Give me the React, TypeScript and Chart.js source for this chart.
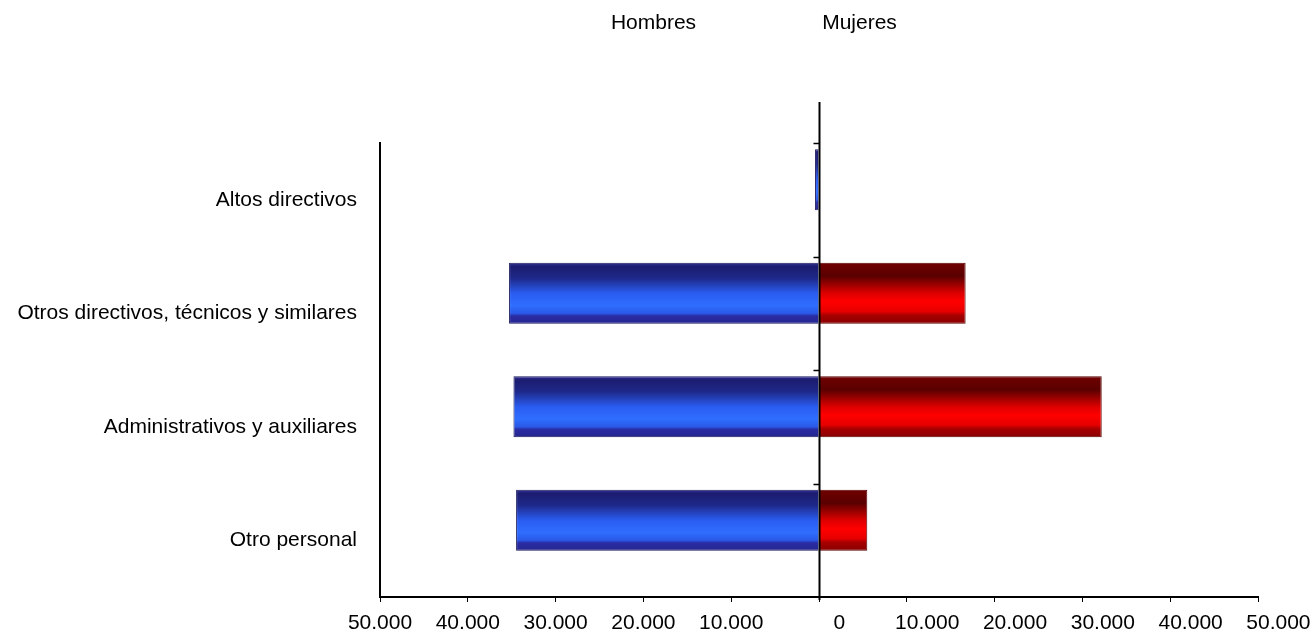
import { useEffect, useRef } from 'react';
import { Chart, registerables } from 'chart.js';

Chart.register(...registerables);

const categories = [
  'Altos directivos',
  'Otros directivos, técnicos y similares',
  'Administrativos y auxiliares',
  'Otro personal',
];
const hombres = [-450, -35300, -34800, -34500];
const mujeres = [100, 16700, 32200, 5500];
const spacer = [null, null, null, null];
const seriesNames = ['Hombres', 'Mujeres'];
const xMin = -50000;
const xMax = 50000;
const xStep = 10000;

const FONT = '"Liberation Sans", Arial, sans-serif';
const CAT_PCT = 0.705;
const BAR_PCT = 1.525;

const blueStops: [number, string][] = [
  [0, '#34349a'],
  [0.06, '#1c1c70'],
  [0.25, '#1e2888'],
  [0.5, '#2a5cf0'],
  [0.7, '#2f6eff'],
  [0.83, '#2a58e6'],
  [0.87, '#2a2ca4'],
  [1, '#26268e'],
];
const redStops: [number, string][] = [
  [0, '#700000'],
  [0.22, '#5a0000'],
  [0.5, '#dd0000'],
  [0.64, '#ff0000'],
  [0.8, '#e60000'],
  [0.86, '#a80000'],
  [1, '#880000'],
];

function fmt(v: number) {
  const n = Math.abs(v);
  const s = String(n).replace(/\B(?=(\d{3})+(?!\d))/g, '.');
  return v >= 0 ? '       ' + s : s;
}

function gradientFor(stops: [number, string][], fallback: string) {
  return (c: any) => {
    const chart = c.chart;
    const y = chart.scales && chart.scales.y;
    if (!y || c.type !== 'data') return fallback;
    const bandCenter = y.getPixelForValue(c.dataIndex);
    const band = y._length / categories.length;
    if (!isFinite(bandCenter) || !isFinite(band) || band <= 0) return fallback;
    const chunk = (band * CAT_PCT) / 2;
    const center = bandCenter - chunk / 2;
    const half = (chunk * BAR_PCT) / 2;
    const g = chart.ctx.createLinearGradient(0, center - half, 0, center + half);
    stops.forEach(([o, col]) => g.addColorStop(o, col));
    return g;
  };
}

const overlay = {
  id: 'overlay',
  afterDatasetsDraw(chart: any) {
    const { ctx, chartArea } = chart;
    const x = chart.scales.x;
    const x0 = Math.round(x.getPixelForValue(0)) + 0.5;
    ctx.save();
    ctx.strokeStyle = '#000';
    ctx.lineWidth = 2;
    ctx.beginPath();
    ctx.moveTo(x0, chartArea.top - 41);
    ctx.lineTo(x0, chartArea.bottom + 3);
    ctx.stroke();
    ctx.lineWidth = 1.5;
    const band = (chartArea.bottom - chartArea.top) / categories.length;
    ctx.beginPath();
    for (let i = 0; i < categories.length; i++) {
      const yy = Math.round(chartArea.top + i * band) + 0.5;
      ctx.moveTo(x0 - 6, yy);
      ctx.lineTo(x0, yy);
    }
    ctx.stroke();
    ctx.font = '21px ' + FONT;
    ctx.fillStyle = '#000';
    ctx.textAlign = 'center';
    ctx.textBaseline = 'middle';
    ctx.fillText(seriesNames[0], x0 - 166, 23);
    ctx.fillText(seriesNames[1], x0 + 40, 23);
    ctx.restore();
  },
};

export default function App() {
  const ref = useRef<HTMLCanvasElement>(null);
  useEffect(() => {
    if (!ref.current) return;
    const chart = new Chart(ref.current, {
      type: 'bar',
      data: {
        labels: categories,
        datasets: [
          {
            label: seriesNames[0],
            data: hombres,
            stack: 'a',
            backgroundColor: gradientFor(blueStops, '#2a5cf0'),
            borderColor: '#1a1a5e',
            borderWidth: 1,
            categoryPercentage: CAT_PCT,
            barPercentage: BAR_PCT,
          },
          {
            label: seriesNames[1],
            data: mujeres,
            stack: 'a',
            backgroundColor: gradientFor(redStops, '#ff0000'),
            borderColor: '#5a0000',
            borderWidth: 1,
            categoryPercentage: CAT_PCT,
            barPercentage: BAR_PCT,
          },
          {
            label: '',
            data: spacer,
            stack: 'b',
            backgroundColor: 'rgba(0,0,0,0)',
            categoryPercentage: CAT_PCT,
            barPercentage: BAR_PCT,
          },
        ] as any,
      },
      options: {
        indexAxis: 'y',
        animation: false,
        responsive: false,
        devicePixelRatio: 1,
        layout: { padding: { top: 143, right: 57, left: 0, bottom: 0 } },
        plugins: { legend: { display: false }, tooltip: { enabled: false } },
        scales: {
          x: {
            type: 'linear',
            min: xMin,
            max: xMax,
            position: 'bottom',
            afterFit: (s: any) => {
              s.height = 40;
              s.paddingRight = 0;
              s.paddingLeft = 0;
            },
            grid: {
              display: true,
              drawOnChartArea: false,
              drawTicks: true,
              tickLength: 5,
              color: '#000',
              lineWidth: 1,
            },
            border: { display: true, color: '#000', width: 2 },
            ticks: {
              stepSize: xStep,
              autoSkip: false,
              maxRotation: 0,
              minRotation: 0,
              padding: 9,
              color: '#000',
              font: { family: FONT, size: 21 },
              callback: (v: any) => fmt(Number(v)),
            },
          },
          y: {
            type: 'category',
            position: 'left',
            offset: true,
            afterFit: (s: any) => {
              s.width = 380;
            },
            grid: { display: false },
            border: { display: true, color: '#000', width: 2 },
            ticks: {
              padding: 15,
              color: '#000',
              font: { family: FONT, size: 21 },
            },
          },
        },
      } as any,
      plugins: [overlay],
    });
    return () => chart.destroy();
  }, []);
  return (
    <div style={{ position: 'absolute', left: 0, top: 0, width: 1315, height: 637, background: '#fff' }}>
      <canvas ref={ref} width={1315} height={637} />
    </div>
  );
}
